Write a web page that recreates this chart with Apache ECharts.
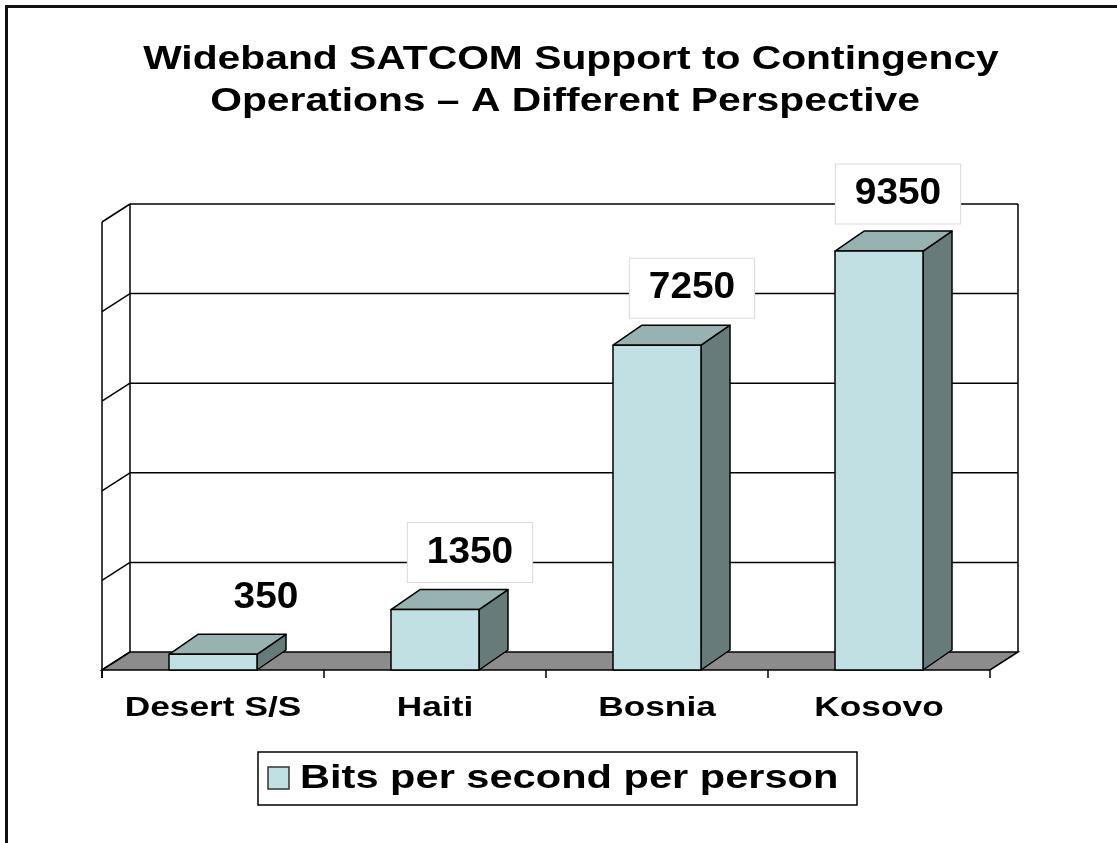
<!DOCTYPE html>
<html>
<head>
<meta charset="utf-8">
<script src="https://cdn.jsdelivr.net/npm/echarts@6/dist/echarts.min.js"></script>
<style>
html,body{margin:0;padding:0;background:#fff;}
#chart{width:1117px;height:843px;}
</style>
</head>
<body>
<div id="chart"></div>
<script>
// ---- data ----
const titleLines = ['Wideband SATCOM Support to Contingency', 'Operations \u2013 A Different Perspective'];
const categories = ['Desert S/S', 'Haiti', 'Bosnia', 'Kosovo'];
const values = [350, 1350, 7250, 9350];
const seriesName = 'Bits per second per person';
const yTicks = [0, 2000, 4000, 6000, 8000, 10000];

// ---- styling ----
const FONT = '"Liberation Sans", Arial, Helvetica, sans-serif';
const STRETCH = 1.26;
const WALL_DX = 28, WALL_DY = -18;
const BAR_DX = 29, BAR_DY = -20;
const BAR_W = 88;
const C_FRONT = '#C0E0E3', C_TOP = '#98B2B2', C_SIDE = '#687B7B', C_FLOOR = '#8C8C8C';

const chart = echarts.init(document.getElementById('chart'), null, {renderer: 'canvas'});

function renderFrame(params, api) {
  const band = api.size([1, 0])[0];
  const xL = api.coord([0, 0])[0] - band / 2;
  const xR = api.coord([categories.length - 1, 0])[0] + band / 2;
  const y0 = api.coord([0, yTicks[0]])[1];
  const yTop = api.coord([0, yTicks[yTicks.length - 1]])[1];
  const line = {stroke: '#000', lineWidth: 1.5};
  const children = [];
  yTicks.forEach(function (t) {
    const y = api.coord([0, t])[1];
    if (t !== yTicks[0]) {
      children.push({type: 'line', shape: {x1: xL + WALL_DX, y1: y + WALL_DY, x2: xR + WALL_DX, y2: y + WALL_DY}, style: line});
    }
    children.push({type: 'line', shape: {x1: xL, y1: y, x2: xL + WALL_DX, y2: y + WALL_DY}, style: line});
  });
  children.push({type: 'line', shape: {x1: xL + WALL_DX, y1: yTop + WALL_DY, x2: xL + WALL_DX, y2: y0 + WALL_DY}, style: line});
  children.push({type: 'line', shape: {x1: xR + WALL_DX, y1: yTop + WALL_DY, x2: xR + WALL_DX, y2: y0 + WALL_DY}, style: line});
  children.push({type: 'polygon', shape: {points: [[xL, y0], [xL + WALL_DX, y0 + WALL_DY], [xR + WALL_DX, y0 + WALL_DY], [xR, y0]]},
    style: {fill: C_FLOOR, stroke: '#000', lineWidth: 1.5}});
  children.push({type: 'line', shape: {x1: xL, y1: yTop, x2: xL, y2: y0 + 8}, style: line});
  for (let i = 0; i <= categories.length; i++) {
    const x = xL + i * band;
    children.push({type: 'line', shape: {x1: x, y1: y0, x2: x, y2: y0 + 8}, style: line});
  }
  return {type: 'group', children: children};
}

const labelDx = [53, 35, 35, 19];

function renderBar(params, api) {
  const idx = api.value(0);
  const val = api.value(1);
  const top = api.coord([idx, val]);
  const base = api.coord([idx, 0]);
  const cx = top[0], yT = top[1], y0 = base[1];
  const l = cx - BAR_W / 2, r = cx + BAR_W / 2;
  const stroke = {stroke: '#000', lineWidth: 1.5, lineJoin: 'round'};
  const children = [
    {type: 'polygon', shape: {points: [[r, yT], [r + BAR_DX, yT + BAR_DY], [r + BAR_DX, y0 + BAR_DY], [r, y0]]},
      style: Object.assign({fill: C_SIDE}, stroke)},
    {type: 'polygon', shape: {points: [[l, yT], [l + BAR_DX, yT + BAR_DY], [r + BAR_DX, yT + BAR_DY], [r, yT]]},
      style: Object.assign({fill: C_TOP}, stroke)},
    {type: 'rect', shape: {x: l, y: yT, width: BAR_W, height: y0 - yT},
      style: Object.assign({fill: C_FRONT}, stroke)}
  ];
  const small = val < 1000;
  children.push({
    type: 'text', x: cx + labelDx[idx], y: yT + BAR_DY - 37,
    scaleX: 1.05,
    style: {
      text: String(val), x: 0, y: 0, align: 'center', verticalAlign: 'middle',
      font: 'bold 37px ' + FONT, fill: '#000',
      backgroundColor: small ? 'transparent' : '#fff',
      borderColor: small ? 'transparent' : '#DCDCDC', borderWidth: 1,
      padding: [11, 18, 11, 18], lineHeight: 37
    }
  });
  children.push({
    type: 'text', x: cx, y: y0 + 38, scaleX: STRETCH,
    style: {text: categories[idx], x: 0, y: 0, align: 'center', verticalAlign: 'middle',
      font: 'bold 28px ' + FONT, fill: '#000'}
  });
  return {type: 'group', children: children};
}

const option = {
  animation: false,
  backgroundColor: '#fff',
  grid: {left: 102, top: 222, width: 888, height: 448, containLabel: false, show: false},
  xAxis: {type: 'category', data: categories, show: false, boundaryGap: true},
  yAxis: {type: 'value', min: 0, max: 10000, interval: 2000, show: false},
  series: [
    {type: 'custom', name: 'frame', z: 1, silent: true, renderItem: renderFrame, data: [[0, 0]]},
    {type: 'custom', name: seriesName, z: 2, renderItem: renderBar,
      data: values.map(function (v, i) { return [i, v]; }), encode: {x: 0, y: 1}}
  ],
  graphic: [
    {type: 'polyline', shape: {points: [[6.5, 843], [6.5, 6.5], [1117, 6.5]]}, style: {stroke: '#111', lineWidth: 3, fill: null}, z: 0},
    {type: 'text', x: 571, y: 60, scaleX: 1.2, style: {text: titleLines[0], x: 0, y: 0, align: 'center', verticalAlign: 'middle', font: 'bold 34px ' + FONT, fill: '#000'}},
    {type: 'text', x: 565, y: 102, scaleX: 1.2, style: {text: titleLines[1], x: 0, y: 0, align: 'center', verticalAlign: 'middle', font: 'bold 34px ' + FONT, fill: '#000'}},
    {type: 'rect', shape: {x: 258, y: 752, width: 599, height: 53}, style: {fill: '#fff', stroke: '#000', lineWidth: 1.5}},
    {type: 'rect', shape: {x: 268, y: 767, width: 21, height: 22}, style: {fill: C_FRONT, stroke: '#333', lineWidth: 1.5}},
    {type: 'text', x: 300, y: 779, scaleX: STRETCH, style: {text: seriesName, x: 0, y: 0, align: 'left', verticalAlign: 'middle', font: 'bold 33px ' + FONT, fill: '#000'}}
  ]
};
chart.setOption(option);
</script>
</body>
</html>
